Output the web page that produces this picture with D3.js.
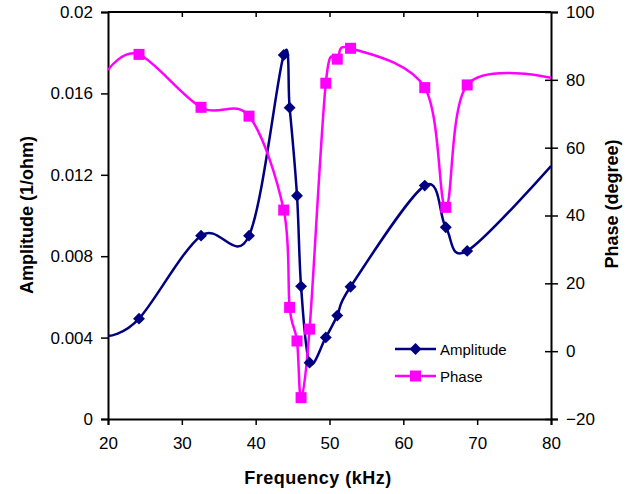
<!DOCTYPE html>
<html>
<head>
<meta charset="utf-8">
<script src="https://cdnjs.cloudflare.com/ajax/libs/d3/7.8.5/d3.min.js"></script>
<style>
    body { margin: 0; background: #fff; }
    text { font-family: "Liberation Sans", Arial, sans-serif; fill: #000; }
</style>
</head>
<body>
<div id="chart"></div>
<script>

// values (first and last point sit on the axes, no marker)
var freq = [20, 24.2, 32.6, 39.1, 43.8, 44.6, 45.6, 46.15, 47.3, 49.5, 51.05, 52.85, 62.9, 65.75, 68.65, 80];
var amplitude = [0.00408, 0.00493, 0.00901, 0.00901, 0.01789, 0.0153, 0.01097, 0.00652, 0.00277, 0.00401, 0.00508, 0.0065, 0.01147, 0.00942, 0.00826, 0.01243];
var phase = [82.9, 87.5, 71.9, 69.3, 41.6, 12.9, 3.0, -13.7, 6.5, 79, 86.1, 89.3, 77.7, 42.4, 78.5, 80.6];

var freqTicks = [20, 30, 40, 50, 60, 70, 80];
var ampTicks = [0, 0.004, 0.008, 0.012, 0.016, 0.02];
var ampTickLabels = ["0", "0.004", "0.008", "0.012", "0.016", "0.02"];
var phaseTicks = [-20, 0, 20, 40, 60, 80, 100];

var W = 632, H = 494;
var pLeft = 108, pRight = 551, pTop = 12, pBottom = 419;

var svg = d3.select("#chart").append("svg")
    .attr("width", W).attr("height", H);

var x = d3.scaleLinear().domain([20, 80]).range([pLeft, pRight]);
var yA = d3.scaleLinear().domain([0, 0.02]).range([pBottom, pTop]);
var yP = d3.scaleLinear().domain([-20, 100]).range([pBottom, pTop]);

var ampData = freq.map(function (f, i) { return {f: f, v: amplitude[i]}; });
var phaseData = freq.map(function (f, i) { return {f: f, v: phase[i]}; });

svg.append("clipPath").attr("id", "plotclip")
    .append("rect").attr("x", pLeft).attr("y", pTop - 2)
    .attr("width", pRight - pLeft).attr("height", pBottom - pTop + 4);

// axes
var fs = "17px";

var xAxis = svg.append("g").attr("transform", "translate(0," + pBottom + ")")
    .call(d3.axisBottom(x).tickValues(freqTicks).tickSize(6).tickPadding(12).tickFormat(d3.format("d")));
var xTop = svg.append("g").attr("transform", "translate(0," + pTop + ")")
    .call(d3.axisBottom(x).tickValues(freqTicks).tickSize(5).tickFormat(""));
var yLeft = svg.append("g").attr("transform", "translate(" + pLeft + ",0)")
    .call(d3.axisLeft(yA).tickValues(ampTicks).tickSize(7).tickPadding(8)
        .tickFormat(function (d, i) { return ampTickLabels[i]; }));
var yRight = svg.append("g").attr("transform", "translate(" + pRight + ",0)")
    .call(d3.axisRight(yP).tickValues(phaseTicks).tickSize(7).tickPadding(8).tickFormat(d3.format("d")));
yRight.selectAll(".tick line").attr("x1", -6);

[xAxis, xTop, yLeft, yRight].forEach(function (g) {
    g.select(".domain").attr("stroke", "#000").attr("stroke-width", 2);
    g.selectAll(".tick line").attr("stroke", "#000").attr("stroke-width", 1.5);
    g.selectAll(".tick text").style("font-size", fs).attr("fill", "#000")
        .style("font-family", "'Liberation Sans', Arial, sans-serif");
});
xTop.selectAll(".tick").filter(function (d) { return d === 20 || d === 80; }).remove();
xTop.select(".domain").attr("d", "M" + pLeft + ",0H" + pRight);

// axis titles
svg.append("text")
    .attr("x", 318).attr("y", 484)
    .attr("text-anchor", "middle")
    .style("font-size", "18px").style("font-weight", "bold").style("letter-spacing", "0.5px")
    .text("Frequency (kHz)");

svg.append("text")
    .attr("transform", "translate(33,215) rotate(-90)")
    .attr("text-anchor", "middle")
    .style("font-size", "18px").style("font-weight", "bold")
    .text("Amplitude (1/ohm)");

svg.append("text")
    .attr("transform", "translate(618,204) rotate(-90)")
    .attr("text-anchor", "middle")
    .style("font-size", "18px").style("font-weight", "bold")
    .text("Phase (degree)");

// lines
var ampColor = "#000080", phaseColor = "#ff00ff";

// excel style smoothing ~ uniform catmull-rom
var ampLine = d3.line().x(function (d) { return x(d.f); }).y(function (d) { return yA(d.v); })
    .curve(d3.curveCatmullRom.alpha(0));
var phaseLine = d3.line().x(function (d) { return x(d.f); }).y(function (d) { return yP(d.v); })
    .curve(d3.curveCatmullRom.alpha(0));

var plot = svg.append("g").attr("clip-path", "url(#plotclip)");

plot.append("path").datum(ampData)
    .attr("d", ampLine).attr("fill", "none")
    .attr("stroke", ampColor).attr("stroke-width", 2.5);

plot.append("path").datum(phaseData)
    .attr("d", phaseLine).attr("fill", "none")
    .attr("stroke", phaseColor).attr("stroke-width", 2.5);

function inside(d) { return d.f > 20 && d.f < 80; }

var diamond = d3.symbol().type(d3.symbolDiamond2).size(90);

svg.selectAll(".amp-mark").data(ampData.filter(inside))
    .enter().append("path").attr("class", "amp-mark")
    .attr("d", diamond)
    .attr("transform", function (d) { return "translate(" + x(d.f) + "," + yA(d.v) + ")"; })
    .attr("fill", ampColor);

svg.selectAll(".phase-mark").data(phaseData.filter(inside))
    .enter().append("rect").attr("class", "phase-mark")
    .attr("x", function (d) { return x(d.f) - 5.5; })
    .attr("y", function (d) { return yP(d.v) - 5.5; })
    .attr("width", 11).attr("height", 11)
    .attr("fill", phaseColor);

// legend
var legend = svg.append("g");
var legendItems = [
    {name: "Amplitude", color: ampColor, y: 349, mark: "diamond"},
    {name: "Phase", color: phaseColor, y: 376, mark: "square"}
];
legendItems.forEach(function (it) {
    legend.append("line").attr("x1", 395).attr("x2", 436)
        .attr("y1", it.y).attr("y2", it.y)
        .attr("stroke", it.color).attr("stroke-width", 2.5);
    if (it.mark === "diamond") {
        legend.append("path").attr("d", diamond)
            .attr("transform", "translate(415.5," + it.y + ")").attr("fill", it.color);
    } else {
        legend.append("rect").attr("x", 410).attr("y", it.y - 5.5)
            .attr("width", 11).attr("height", 11).attr("fill", it.color);
    }
    legend.append("text").attr("x", 440).attr("y", it.y + 5.5)
        .style("font-size", "15px").text(it.name);
});

</script>
</body>
</html>
